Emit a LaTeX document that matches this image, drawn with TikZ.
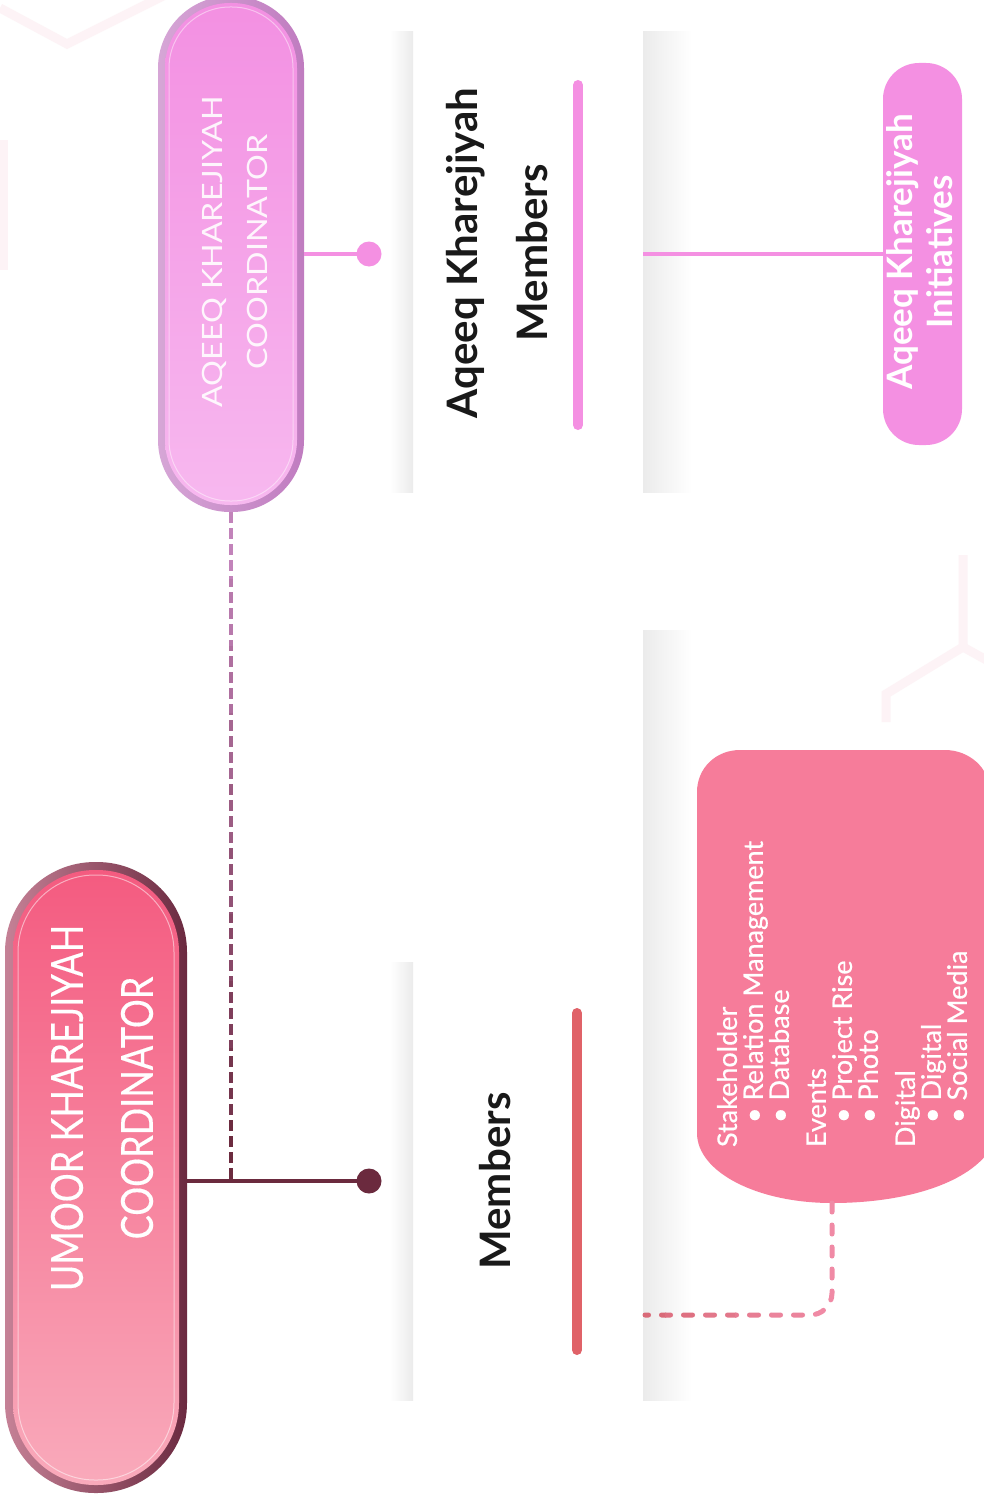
\documentclass[tikz,border=0pt]{standalone}
\usepackage{fontspec}
\setmainfont{Lato}
\newfontfamily\umfont[FakeStretch=0.82,FakeBold=0.3]{Lato}
\newfontfamily\aqfont[FakeStretch=1.15]{Lato}
\newfontfamily\listfont[FakeBold=0.5]{Lato}
\usetikzlibrary{calc}
\definecolor{maroonc}{HTML}{6B2A3E}
\definecolor{umtop}{HTML}{F45B80}
\definecolor{umbot}{HTML}{F9AABB}
\definecolor{umbordL}{HTML}{C58196}
\definecolor{umbordR}{HTML}{6B2A40}
\definecolor{aqtop}{HTML}{F390E2}
\definecolor{aqbot}{HTML}{F7B8EF}
\definecolor{aqbordL}{HTML}{D6A6D6}
\definecolor{aqbordR}{HTML}{C07CC0}
\definecolor{aqline}{HTML}{C283BA}
\definecolor{pinkc}{HTML}{F490E2}
\definecolor{stkpink}{HTML}{F67C9A}
\definecolor{redbar}{HTML}{E06268}
\definecolor{dashL}{HTML}{D96A78}
\definecolor{dashR}{HTML}{F08AA5}
\definecolor{hexc}{HTML}{FDF3F6}
\definecolor{shadowc}{HTML}{EBEBEB}
\begin{document}
\begin{tikzpicture}[x=1pt,y=-1pt,
  every node/.style={inner sep=0pt,outer sep=0pt},
  bartxt/.style={rotate=90,align=center},
  maroonline/.style={draw=maroonc,line width=3.5pt},
  pinkline/.style={draw=pinkc,line width=3.5pt},
  coorddash/.style={line width=3.5pt,dash pattern=on 11pt off 5pt},
  stkdash/.style={line width=5pt,line cap=round,dash pattern=on 9pt off 13pt},
  barline/.style={line width=10pt,line cap=round},
  hexline/.style={draw=hexc,line width=9pt}
]
\useasboundingbox (0,0) rectangle (984,1501);
\fill[white] (0,0) rectangle (984,1501);

% faint background hexagons
\draw[hexline] (0,8) -- (67,44) -- (165,-5);
\draw[hexline] (3,140) -- (3,270);
\draw[hexline] (886,722) -- (886,694) -- (963,647) -- (963,555);
\draw[hexline] (963,647) -- (990,662);

% card shadows
\shade[left color=white,right color=shadowc] (390,32) rectangle (413,492);
\shade[left color=shadowc,right color=white] (643,32) rectangle (692,492);
\shade[left color=white,right color=shadowc] (390,962) rectangle (413,1400);
\shade[left color=shadowc,right color=white] (643,630) rectangle (692,1400);

% ---------- Aqeeq coordinator pill
\node[minimum width=146pt,minimum height=516pt,rounded corners=72pt,
  left color=aqbordL,right color=aqbordR] (aqeeq) at (231,254) {};
\node[minimum width=132pt,minimum height=502pt,rounded corners=65pt,
  top color=aqtop,bottom color=aqbot] (aqeeqin) at (aqeeq.center) {};
\node[draw=white,draw opacity=0.45,line width=1pt,minimum width=124pt,
  minimum height=494pt,rounded corners=61pt] (aqeeqrim) at (aqeeq.center) {};
\node[bartxt,text=white,text opacity=0.9,font=\aqfont\fontsize{28}{45}\selectfont]
  (aqeeqtxt) at (235,252) {AQEEQ KHAREJIYAH\\COORDINATOR};

% ---------- Umoor coordinator pill
\node[minimum width=182pt,minimum height=631pt,rounded corners=90pt,
  left color=umbordL,right color=umbordR] (umoor) at (96,1177.5) {};
\node[minimum width=166pt,minimum height=615pt,rounded corners=82pt,
  top color=umtop,bottom color=umbot] (umoorin) at (umoor.center) {};
\node[draw=white,draw opacity=0.5,line width=1pt,minimum width=156pt,
  minimum height=605pt,rounded corners=77pt] (umoorrim) at (umoor.center) {};
\node[bartxt,text=white,font=\umfont\fontsize{44}{70}\selectfont]
  (umoortxt) at (102,1108) {UMOOR KHAREJIYAH\\COORDINATOR};

% ---------- dots and connectors
\node[circle,fill=pinkc,minimum size=25pt] (aqdot) at (369,254) {};
\node[circle,fill=maroonc,minimum size=25pt] (umdot) at (369,1181) {};
\draw[pinkline] (aqeeq.east |- aqdot.center) -- (aqdot.center);
\draw[maroonline] (umoor.east |- umdot.center) -- (umdot.center);
\coordinate (junc) at (aqeeq.south |- umdot.center);
\foreach \i in {0,...,9} {
  \pgfmathtruncatemacro\pct{\i*11}
  \begin{scope}
    \clip (200,{512+\i*67}) rectangle (260,{512+(\i+1)*67+1});
    \draw[coorddash,draw=maroonc!\pct!aqline] (aqeeq.south) -- (junc);
  \end{scope}
}

% ---------- members labels
\node[bartxt,font=\fontsize{42}{70}\selectfont\bfseries,text=black!90]
  (aqmem) at (497,253) {Aqeeq Kharejiyah\\Members};
\node[bartxt,font=\fontsize{42}{70}\selectfont\bfseries,text=black!90]
  (ummem) at (495,1181) {Members};
\coordinate (pbtop) at (578,85);
\coordinate (pbbot) at (578,425);
\draw[barline,draw=pinkc] (pbtop) -- (pbbot);
\coordinate (rbtop) at (577,1013);
\coordinate (rbbot) at (577,1350);
\draw[barline,draw=redbar] (rbtop) -- (rbbot);

% ---------- initiatives
\node[fill=pinkc,minimum width=79pt,minimum height=382pt,rounded corners=36pt]
  (init) at (922.5,254) {};
\node[bartxt,text=white,font=\fontsize{35}{40}\selectfont\bfseries]
  (inittxt) at (920,252) {Aqeeq Kharejiyah\\Initiatives};
\coordinate (initfree) at (643,254);
\draw[pinkline] (initfree) -- (init.west |- initfree);

% ---------- stakeholder box
\fill[stkpink] (697,792) .. controls (697,768) and (716,750) .. (740,750)
  -- (945,750) .. controls (969,750) and (990,768) .. (990,792)
  -- (990,1150) .. controls (965,1186) and (900,1203) .. (832,1203)
  .. controls (757,1203) and (697,1172) .. (697,1133) -- cycle;
\coordinate (stkbot) at (832,1203);
\node[rotate=90,anchor=north west,align=left,text=white,
  font=\listfont\fontsize{27}{26}\selectfont] (stktxt) at (717,1147)
  {Stakeholder\\
   \hspace*{24pt}\textbullet\ Relation Management\\
   \hspace*{24pt}\textbullet\ Database\\[11pt]
   Events\\
   \hspace*{24pt}\textbullet\ Project Rise\\
   \hspace*{24pt}\textbullet\ Photo\\[11pt]
   Digital\\
   \hspace*{24pt}\textbullet\ Digital\\
   \hspace*{24pt}\textbullet\ Social Media};
\coordinate (stkend) at (645,1315);
\foreach \i in {0,...,5} {
  \pgfmathtruncatemacro\pct{\i*20}
  \begin{scope}
    \clip ({630+\i*35},1195) rectangle ({630+(\i+1)*35+1},1330);
    \draw[stkdash,rounded corners=22pt,draw=dashR!\pct!dashL]
      (stkbot) -- (stkbot |- stkend) -- (stkend);
  \end{scope}
}
\end{tikzpicture}
\end{document}
